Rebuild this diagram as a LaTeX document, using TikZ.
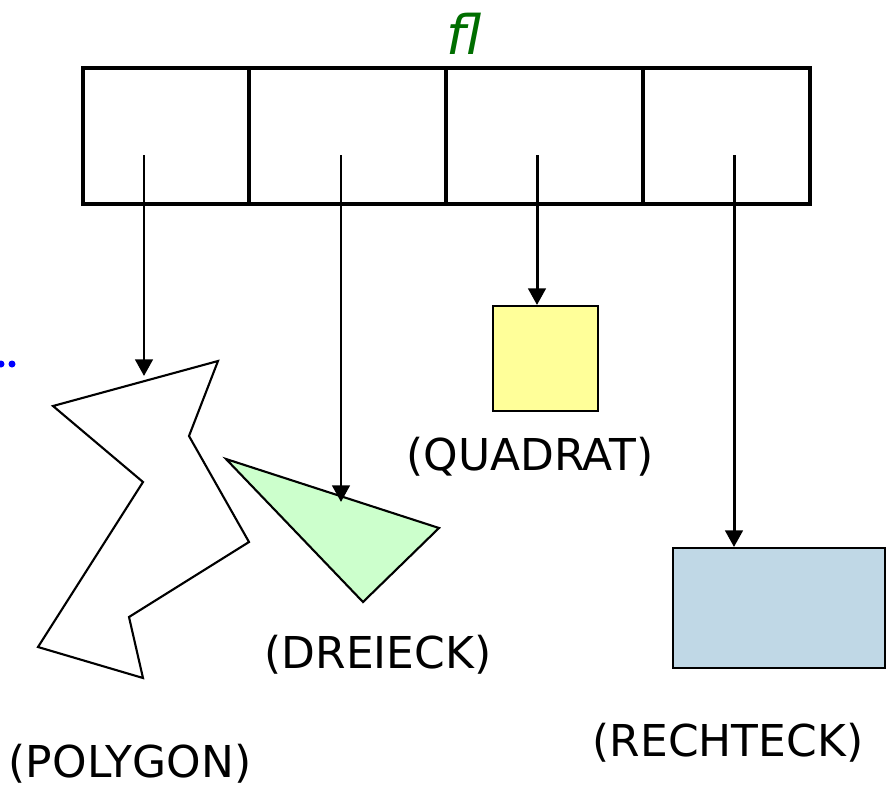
\documentclass[tikz,border=0pt]{standalone}
\usepackage{fontspec}
\setmainfont{DejaVu Sans}
\usepackage{tikz}
\usetikzlibrary{arrows.meta}
\definecolor{flgreen}{RGB}{0,110,0}
\definecolor{trigreen}{RGB}{204,255,204}
\definecolor{sqyellow}{RGB}{255,255,153}
\definecolor{recblue}{RGB}{192,216,230}

\begin{document}
\begin{tikzpicture}[x=0.02cm,y=-0.02cm,
    cell/.style={draw,line width=1.9pt},
    ptr/.style={line width=1.7pt,-{Triangle[length=9.5pt,width=10pt]}},
    fig/.style={draw,line width=1.2pt,line join=miter},
    lbl/.style={font=\fontsize{25}{28}\selectfont}]
            \useasboundingbox (0,0) rectangle (892,788);
            % the array fl
            \coordinate (A) at (83,68);
            \coordinate (B) at (810,204);
            \draw[cell] (A) rectangle (B);
            \draw[cell] (249,68) -- (249,204);
            \draw[cell] (446,68) -- (446,204);
            \draw[cell] (643,68) -- (643,204);
            \node[text=flgreen,font=\fontsize{31}{34}\selectfont\itshape] (fl) at (464,34) {fl};
            % pointer starts
            \coordinate (p1) at (144,155);
            \coordinate (p2) at (341,155);
            \coordinate (p3) at (537,155);
            \coordinate (p4) at (734,155);
            % polygon
            \draw[fig,fill=white] (53,406) -- (218,361) -- (189,436) -- (249,542) -- (129,617)
                -- (143,678) -- (38,647) -- (143,482) -- cycle;
            \coordinate (P) at (144,376);
            % triangle
            \draw[fig,fill=trigreen] (226,459) -- (439,528) -- (363,602) -- cycle;
            \coordinate (D) at (341,502);
            % square
            \node[fig,fill=sqyellow,inner sep=0pt,
                  minimum width=2.1cm,minimum height=2.1cm,anchor=north west] (Q) at (492,305) {};
            % rectangle
            \node[fig,fill=recblue,inner sep=0pt,minimum width=4.24cm,minimum height=2.4cm,
                  anchor=north west] (R) at (672,547) {};
            % pointers
            \draw[ptr] (p1) -- (P);
            \draw[ptr] (p2) -- (D);
            \draw[ptr] (p3) -- (p3 |- Q.north);
            \draw[ptr] (p4) -- (p4 |- R.north);
            % labels
            \node[lbl] (lq) at (530,457) {(QUADRAT)};
            \node[lbl] (ld) at (378,655) {(DREIECK)};
            \node[lbl] (lp) at (130,764) {(POLYGON)};
            \node[lbl] (lr) at (728,743) {(RECHTECK)};
            % dots
            \fill[blue] (1,364) circle (3.5) (12,364) circle (3.5);
        \end{tikzpicture}
\end{document}
